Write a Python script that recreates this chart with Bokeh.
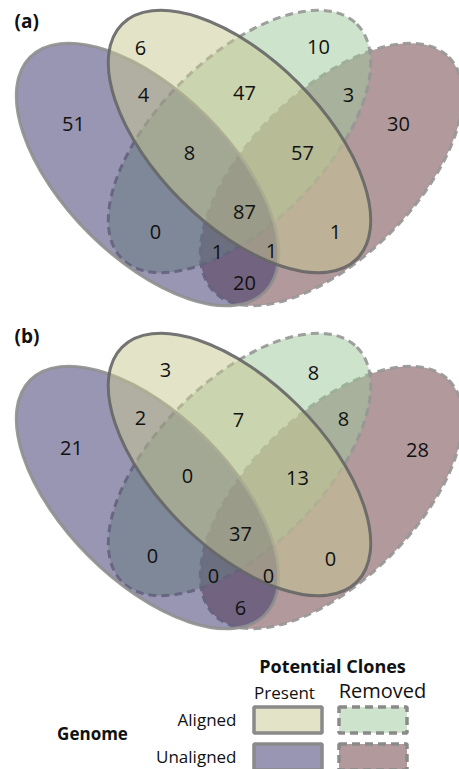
from bokeh.plotting import figure
from bokeh.models import Range1d
from bokeh.embed import file_html
from bokeh.resources import INLINE
from bokeh.core.properties import value

# ---------------- data ----------------
regions = ["A", "B", "C", "D", "AB", "BC", "CD", "ABC", "BCD", "ABCD", "AC", "BD", "ACD", "ABD", "AD"]
# A = Unaligned/Present, B = Aligned/Present, C = Aligned/Removed, D = Unaligned/Removed
counts_a = [51, 6, 10, 30, 4, 47, 3, 8, 57, 87, 0, 1, 1, 1, 20]
counts_b = [21, 3, 8, 28, 2, 7, 8, 0, 13, 37, 0, 0, 0, 0, 6]
panel_labels = ["(a)", "(b)"]
legend_title = "Potential Clones"
legend_cols = ["Present", "Removed"]
legend_rows = ["Aligned", "Unaligned"]
legend_row_title = "Genome"

# ---------------- layout (reference pixel coordinates) ----------------
W, H = 459, 769
X0, Y0 = 0, 0  # reference pixel at figure's top-left corner

def X(px):
    return px - X0

def Y(py):
    return H - (py - Y0)

# label positions per region (reference px), panel a and panel b
pos_a = {"A": (73, 123), "B": (140, 47), "C": (318, 46), "D": (398, 123),
         "AB": (143, 94), "BC": (244, 92), "CD": (348, 94), "ABC": (189, 152),
         "BCD": (302, 152), "ABCD": (244, 211), "AC": (155, 231), "BD": (335, 231),
         "ACD": (217, 251), "ABD": (271, 250), "AD": (244, 282)}
pos_b = {"A": (71, 447), "B": (165, 369), "C": (313, 372), "D": (417, 449),
         "AB": (140, 417), "BC": (238, 419), "CD": (343, 418), "ABC": (187, 475),
         "BCD": (297, 477), "ABCD": (240, 533), "AC": (152, 555), "BD": (330, 558),
         "ACD": (213, 575), "ABD": (268, 575), "AD": (240, 607)}

# ellipse geometry (reference px) for panel a; panel b shifted down
A_AX, B_AX = 166, 83
ell_centers = {"A": (147, 174), "B": (239, 141), "C": (239, 141), "D": (331, 174)}
ell_angles = {"A": -0.785398, "B": -0.785398, "C": 0.785398, "D": 0.785398}
fills = {"A": "#312d65", "B": "#c7c791", "C": "#9bc799", "D": "#653539"}
lines = {"A": ("#8f8f8f", "solid"), "B": ("#666666", "solid"),
         "C": ("#969696", "8 5"), "D": ("#969696", "8 5")}
draw_order = ["D", "C", "A", "B"]
offsets = [0, 323]
label_y = [20, 335]

p = figure(width=W, height=H, x_range=Range1d(0, W), y_range=Range1d(0, H),
           output_backend="svg", toolbar_location=None, min_border=0)
p.axis.visible = False
p.xgrid.visible = False
p.ygrid.visible = False
p.outline_line_color = None
p.background_fill_color = "white"

font = value("Open Sans")

for panel, (counts, pos, off) in enumerate([(counts_a, pos_a, offsets[0]), (counts_b, pos_b, offsets[1])]):
    for k in draw_order:
        cx, cy = ell_centers[k]
        lc, ld = lines[k]
        p.ellipse(x=[X(cx)], y=[Y(cy + off)], width=[2 * A_AX], height=[2 * B_AX], angle=[ell_angles[k]],
                  fill_color=fills[k], fill_alpha=0.5, line_color=lc, line_alpha=0.9,
                  line_width=3, line_dash=ld)
    xs = [X(pos[r][0]) for r in regions]
    ys = [Y(pos[r][1]) for r in regions]
    p.text(x=xs, y=ys, text=[str(c) for c in counts], text_align="center", text_baseline="middle",
           text_font=font, text_font_size="20px", text_color="#111111")
    p.text(x=[X(14)], y=[Y(label_y[panel])], text=[panel_labels[panel]], text_align="left",
           text_baseline="middle", text_font=font, text_font_size="19px", text_font_style="bold",
           text_color="#111111")

# ---------------- legend ----------------
p.text(x=[X(332)], y=[Y(665)], text=[legend_title], text_align="center", text_baseline="middle",
       text_font=font, text_font_size="18px", text_font_style="bold", text_color="#111111")
p.text(x=[X(284)], y=[Y(692)], text=[legend_cols[0]], text_align="center", text_baseline="middle",
       text_font=font, text_font_size="17px", text_color="#111111")
p.text(x=[X(382)], y=[Y(690)], text=[legend_cols[1]], text_align="center", text_baseline="middle",
       text_font=font, text_font_size="20px", text_color="#111111")
p.text(x=[X(236), X(236)], y=[Y(719), Y(756)], text=legend_rows, text_align="right", text_baseline="middle",
       text_font=font, text_font_size="17px", text_color="#111111")
p.text(x=[X(92)], y=[Y(733)], text=[legend_row_title], text_align="center", text_baseline="middle",
       text_font=font, text_font_size="17px", text_font_style="bold", text_color="#111111")

box_keys = [("B", 287.5, 719.5), ("C", 372.5, 719.5), ("A", 287.5, 756.5), ("D", 372.5, 756.5)]
for k, bx, by in box_keys:
    p.rect(x=[X(bx)], y=[Y(by)], width=[68], height=[26], fill_color=fills[k], fill_alpha=0.5,
           line_color="#8a8a8a", line_width=3.5, line_dash=lines[k][1])

open("out.html", "w").write(file_html(p, INLINE))
